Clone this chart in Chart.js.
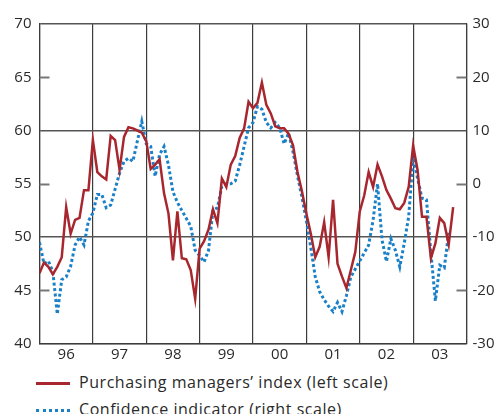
<!DOCTYPE html>
<html>
<head>
<meta charset="utf-8">
<script src="https://cdn.jsdelivr.net/npm/chart.js@4.4.1/dist/chart.umd.min.js"></script>
<style>
    body { margin: 0; background: #fff; font-family: 'Open Sans', sans-serif; color: #2a2a2a; }
    #wrap { position: relative; width: 496px; height: 414px; overflow: hidden; }
    .legend { position: absolute; left: 36px; font-size: 16px; line-height: 20px; letter-spacing: 0.55px; white-space: nowrap; }
    .legend span.swatch { display: inline-block; width: 34px; vertical-align: middle; margin-right: 9px; }
</style>
</head>
<body>
<div id="wrap">
    <canvas id="grafico" width="496" height="366"></canvas>
    <div class="legend" style="top: 372px;"><span class="swatch" style="border-top: 3px solid #a8272f;"></span>Purchasing managers’ index (left scale)</div>
    <div class="legend" style="top: 399px;"><span class="swatch" style="border-top: 3px dotted #1a80c8;"></span>Confidence indicator (right scale)</div>
</div>
<script>
// Etiquetas de años (un tick cada 12 meses, centrado a mitad de año)
const etiquetasAnios = ['96', '97', '98', '99', '00', '01', '02', '03'];

// Índice de gerentes de compras, mensual desde ene-96 (escala izquierda)
const indiceCompras = [
    46.6, 47.6, 47.2, 46.5, 47.2, 48.1, 52.8, 50.3, 51.6, 51.8, 54.4, 54.4,
    59.1, 56.1, 55.7, 55.4, 59.5, 59.1, 56.3, 59.4, 60.3, 60.2, 60.0, 59.8,
    59.0, 56.4, 56.8, 57.3, 54.1, 52.2, 47.8, 52.4, 48.0, 47.9, 46.9, 44.2,
    48.9, 49.6, 50.7, 52.6, 51.3, 55.5, 54.7, 56.8, 57.6, 59.3, 60.2, 62.7,
    62.1, 62.6, 64.5, 62.4, 61.6, 60.4, 60.2, 60.2, 59.7, 58.6, 56.1, 54.3,
    52.2, 50.3, 48.1, 49.1, 51.4, 48.1, 53.5, 47.5, 46.3, 45.2, 46.9, 48.6,
    52.4, 53.9, 56.1, 54.7, 56.8, 55.7, 54.4, 53.6, 52.7, 52.6, 53.2, 54.7,
    58.6, 56.3, 51.9, 51.9, 48.0, 49.4, 51.8, 51.3, 49.3, 52.8
];

// Indicador de confianza, mensual desde ene-96 (escala derecha)
const indicadorConfianza = [
    -11, -15, -14.5, -16.5, -24.5, -18, -17.5, -15.5, -11.5, -10, -11.5, -7,
    -5.5, -2, -2, -4.5, -4, -1, 2, 4.2, 4.8, 4.2, 8, 11.7,
    7.5, 7, 1.4, 5.5, 7, 3.5, -1.5, -3.5, -5, -6.5, -8, -12.5,
    -13.5, -14.7, -12.5, -5, -4.5, -0.5, 0, 0, 0.5, 3.5, 7, 10.5,
    11.5, 14.5, 14, 11.5, 10.5, 11.5, 10.5, 7.5, 9.5, 6, 1.5, -2.5,
    -7, -12, -17.5, -20.3, -21.8, -23, -24, -22.3, -24, -21, -17.5, -16,
    -14.5, -13, -11.5, -6.8, 0, -10.5, -14.6, -10.3, -12.5, -15.6, -11.2, -6.2,
    5, 1, -2.7, -3, -13, -22, -15.3, -15.8, -9.2
];

const colorGrid = '#3c3c3c';
const fuente = { family: "'Open Sans', sans-serif", size: 15 };

// Pequeñas marcas hacia dentro en los valores intermedios de cada eje
const marcasInternas = {
    id: 'marcasInternas',
    afterDraw(chart) {
        const { ctx, chartArea, scales } = chart;
        ctx.save();
        ctx.strokeStyle = '#777';
        ctx.lineWidth = 2;
        [45, 55, 65].forEach(v => {
            const y = Math.round(scales.y.getPixelForValue(v)) + 0.5;
            ctx.beginPath();
            ctx.moveTo(chartArea.left, y);
            ctx.lineTo(chartArea.left + 10, y);
            ctx.stroke();
        });
        [-20, 0, 20].forEach(v => {
            const y = Math.round(scales.y2.getPixelForValue(v)) + 0.5;
            ctx.beginPath();
            ctx.moveTo(chartArea.right - 10, y);
            ctx.lineTo(chartArea.right, y);
            ctx.stroke();
        });
        ctx.restore();
    }
};

new Chart(document.getElementById('grafico'), {
    type: 'line',
    data: {
        datasets: [{
            label: 'Purchasing managers’ index (left scale)',
            data: indiceCompras.map((v, i) => ({ x: i, y: v })),
            yAxisID: 'y',
            borderColor: '#a8272f',
            borderWidth: 2.5,
            pointRadius: 0,
            tension: 0
        }, {
            label: 'Confidence indicator (right scale)',
            data: indicadorConfianza.map((v, i) => ({ x: i, y: v })),
            yAxisID: 'y2',
            borderColor: '#1a80c8',
            borderWidth: 3,
            borderDash: [3, 2.5],
            pointRadius: 0,
            tension: 0
        }]
    },
    options: {
        responsive: false,
        animation: false,
        layout: { padding: { top: 24, left: 0, right: 0, bottom: 0 } },
        plugins: {
            legend: { display: false },
            tooltip: { enabled: false }
        },
        scales: {
            x: {
                type: 'linear',
                min: 0,
                max: 96,
                afterFit: (scale) => { scale.height = 22.5; },
                ticks: {
                    stepSize: 6,
                    autoSkip: false,
                    maxRotation: 0,
                    padding: 2,
                    color: '#2a2a2a',
                    font: fuente,
                    callback: (value) => value % 12 === 6 ? etiquetasAnios[(value - 6) / 12] : ''
                },
                grid: {
                    drawTicks: false,
                    lineWidth: 1.2,
                    color: (ctx) => ctx.tick && ctx.tick.value % 12 === 0 ? colorGrid : 'rgba(0,0,0,0)'
                },
                border: { display: true, color: colorGrid, width: 1.2 }
            },
            y: {
                position: 'left',
                min: 40,
                max: 70,
                afterFit: (scale) => { scale.width = 39.5; },
                ticks: { stepSize: 5, padding: 8, color: '#2a2a2a', font: fuente },
                grid: {
                    drawTicks: false,
                    lineWidth: 1.5,
                    color: (ctx) => ctx.tick && ctx.tick.value % 10 === 0 ? '#555' : 'rgba(0,0,0,0)'
                },
                border: { display: true, color: colorGrid, width: 1.2 }
            },
            y2: {
                position: 'right',
                min: -30,
                max: 30,
                afterFit: (scale) => { scale.width = 29.5; },
                ticks: { stepSize: 10, padding: 6, color: '#2a2a2a', font: fuente },
                grid: { drawOnChartArea: false, drawTicks: false },
                border: { display: true, color: colorGrid, width: 1.2 }
            }
        }
    },
    plugins: [marcasInternas]
});
</script>
</body>
</html>
